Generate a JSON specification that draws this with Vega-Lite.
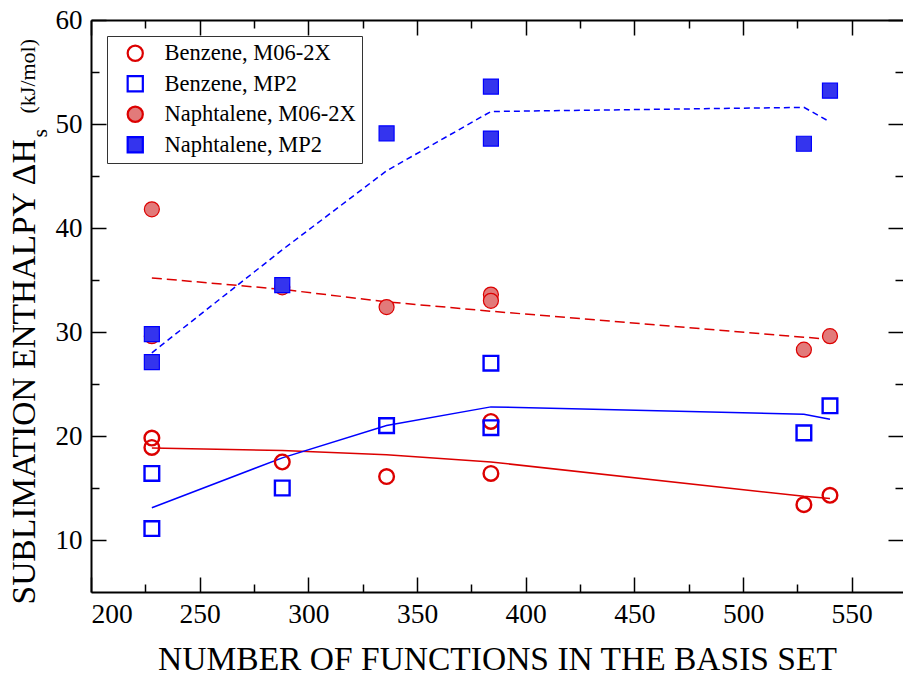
{
  "$schema": "https://vega.github.io/schema/vega-lite/v6.json",
  "width": 812,
  "height": 572,
  "autosize": {"type": "none"},
  "padding": {"left": 91, "top": 20, "right": 0, "bottom": 83},
  "background": "white",
  "config": {
    "view": {"stroke": null},
    "font": "Liberation Serif",
    "text": {"font": "Liberation Serif"},
    "legend": {"labelFont": "Liberation Serif", "titleFont": "Liberation Serif"},
    "axis": {"grid": false, "labelFont": "Liberation Serif", "titleFont": "Liberation Serif", "labelColor": "black", "titleColor": "black", "tickColor": "black", "domainColor": "black", "titleFontWeight": "normal", "tickWidth": 1.5, "domainWidth": 2}
  },
  "datasets": {
    "benzene": [
      {"n": 228, "dh": 19.8, "series": "Benzene, M06-2X"},
      {"n": 228, "dh": 18.9, "series": "Benzene, M06-2X"},
      {"n": 288, "dh": 17.5, "series": "Benzene, M06-2X"},
      {"n": 336, "dh": 16.1, "series": "Benzene, M06-2X"},
      {"n": 384, "dh": 16.4, "series": "Benzene, M06-2X"},
      {"n": 384, "dh": 21.4, "series": "Benzene, M06-2X"},
      {"n": 528, "dh": 13.4, "series": "Benzene, M06-2X"},
      {"n": 540, "dh": 14.3, "series": "Benzene, M06-2X"},
      {"n": 228, "dh": 16.4, "series": "Benzene, MP2"},
      {"n": 228, "dh": 11.1, "series": "Benzene, MP2"},
      {"n": 288, "dh": 15.0, "series": "Benzene, MP2"},
      {"n": 336, "dh": 21.0, "series": "Benzene, MP2"},
      {"n": 384, "dh": 27.0, "series": "Benzene, MP2"},
      {"n": 384, "dh": 20.8, "series": "Benzene, MP2"},
      {"n": 528, "dh": 20.3, "series": "Benzene, MP2"},
      {"n": 540, "dh": 22.9, "series": "Benzene, MP2"}
    ],
    "naphtalene": [
      {"n": 228, "dh": 41.8, "series": "Naphtalene, M06-2X"},
      {"n": 228, "dh": 29.6, "series": "Naphtalene, M06-2X"},
      {"n": 288, "dh": 34.3, "series": "Naphtalene, M06-2X"},
      {"n": 336, "dh": 32.4, "series": "Naphtalene, M06-2X"},
      {"n": 384, "dh": 33.6, "series": "Naphtalene, M06-2X"},
      {"n": 384, "dh": 33.0, "series": "Naphtalene, M06-2X"},
      {"n": 528, "dh": 28.3, "series": "Naphtalene, M06-2X"},
      {"n": 540, "dh": 29.6, "series": "Naphtalene, M06-2X"},
      {"n": 228, "dh": 29.8, "series": "Naphtalene, MP2"},
      {"n": 228, "dh": 27.1, "series": "Naphtalene, MP2"},
      {"n": 288, "dh": 34.5, "series": "Naphtalene, MP2"},
      {"n": 336, "dh": 49.1, "series": "Naphtalene, MP2"},
      {"n": 384, "dh": 53.6, "series": "Naphtalene, MP2"},
      {"n": 384, "dh": 48.6, "series": "Naphtalene, MP2"},
      {"n": 528, "dh": 48.1, "series": "Naphtalene, MP2"},
      {"n": 540, "dh": 53.2, "series": "Naphtalene, MP2"}
    ],
    "benzeneFits": [
      {"n": 228, "dh": 18.85, "fit": "Benzene, M06-2X fit"},
      {"n": 288, "dh": 18.6, "fit": "Benzene, M06-2X fit"},
      {"n": 336, "dh": 18.2, "fit": "Benzene, M06-2X fit"},
      {"n": 384, "dh": 17.5, "fit": "Benzene, M06-2X fit"},
      {"n": 528, "dh": 14.2, "fit": "Benzene, M06-2X fit"},
      {"n": 540, "dh": 14.0, "fit": "Benzene, M06-2X fit"},
      {"n": 228, "dh": 13.1, "fit": "Benzene, MP2 fit"},
      {"n": 288, "dh": 17.9, "fit": "Benzene, MP2 fit"},
      {"n": 336, "dh": 21.0, "fit": "Benzene, MP2 fit"},
      {"n": 384, "dh": 22.8, "fit": "Benzene, MP2 fit"},
      {"n": 528, "dh": 22.1, "fit": "Benzene, MP2 fit"},
      {"n": 540, "dh": 21.6, "fit": "Benzene, MP2 fit"}
    ],
    "naphtaleneFits": [
      {"n": 228, "dh": 35.2, "fit": "Naphtalene, M06-2X fit"},
      {"n": 288, "dh": 34.1, "fit": "Naphtalene, M06-2X fit"},
      {"n": 336, "dh": 32.9, "fit": "Naphtalene, M06-2X fit"},
      {"n": 384, "dh": 32.0, "fit": "Naphtalene, M06-2X fit"},
      {"n": 528, "dh": 29.5, "fit": "Naphtalene, M06-2X fit"},
      {"n": 540, "dh": 29.3, "fit": "Naphtalene, M06-2X fit"},
      {"n": 228, "dh": 28.0, "fit": "Naphtalene, MP2 fit"},
      {"n": 288, "dh": 37.9, "fit": "Naphtalene, MP2 fit"},
      {"n": 336, "dh": 45.5, "fit": "Naphtalene, MP2 fit"},
      {"n": 384, "dh": 51.2, "fit": "Naphtalene, MP2 fit"},
      {"n": 528, "dh": 51.6, "fit": "Naphtalene, MP2 fit"},
      {"n": 540, "dh": 50.2, "fit": "Naphtalene, MP2 fit"}
    ]
  },
  "resolve": {"axis": {"x": "independent", "y": "independent"}},
  "layer": [
    {
      "data": {"name": "benzeneFits"},
      "mark": {"type": "line", "strokeWidth": 1.5},
      "encoding": {
        "x": {"field": "n", "type": "quantitative", "scale": {"domain": [200, 573.6], "nice": false, "zero": false},
          "axis": {"orient": "top", "values": [200, 250, 300, 350, 400, 450, 500, 550], "tickSize": -15, "labels": false, "domain": true, "title": null}},
        "y": {"field": "dh", "type": "quantitative", "scale": {"domain": [5, 60], "nice": false, "zero": false},
          "axis": {"orient": "right", "values": [10, 20, 30, 40, 50, 60], "tickSize": -15, "labels": false, "domain": false,
            "title": "s", "titleFont": "Liberation Serif", "titleFontSize": 22, "titleAngle": 270, "titleAlign": "left", "titleBaseline": "middle", "titleX": -863.5, "titleY": 117}},
        "color": {"field": "fit", "type": "nominal", "legend": null,
          "scale": {"domain": ["Benzene, M06-2X fit", "Benzene, MP2 fit", "Naphtalene, M06-2X fit", "Naphtalene, MP2 fit"], "range": ["#dc0000", "#0000ff", "#dc0000", "#0000ff"]}}
      }
    },
    {
      "data": {"name": "naphtaleneFits"},
      "mark": {"type": "line", "strokeWidth": 1.5},
      "encoding": {
        "x": {"field": "n", "type": "quantitative", "scale": {"domain": [200, 573.6], "nice": false, "zero": false},
          "axis": {"orient": "top", "values": [225, 275, 325, 375, 425, 475, 525], "tickSize": -8, "labels": false, "domain": false, "title": null}},
        "y": {"field": "dh", "type": "quantitative", "scale": {"domain": [5, 60], "nice": false, "zero": false},
          "axis": {"orient": "right", "values": [15, 25, 35, 45, 55], "tickSize": -8, "labels": false, "domain": false, "title": null}},
        "color": {"field": "fit", "type": "nominal", "legend": null},
        "strokeDash": {"field": "fit", "type": "nominal", "legend": null,
          "scale": {"domain": ["Naphtalene, M06-2X fit", "Naphtalene, MP2 fit"], "range": [[10, 5], [6, 4]]}}
      }
    },
    {
      "data": {"name": "benzene"},
      "mark": {"type": "point", "opacity": 1, "size": 215, "strokeWidth": 2.4},
      "encoding": {
        "x": {"field": "n", "type": "quantitative", "scale": {"domain": [200, 573.6], "nice": false, "zero": false},
          "axis": {"orient": "bottom", "values": [200, 250, 300, 350, 400, 450, 500, 550], "tickSize": -15, "labelFont": "Liberation Serif", "labelFontSize": 27.5, "labelPadding": 45, "labelBaseline": "alphabetic",
            "title": "NUMBER OF FUNCTIONS IN THE BASIS SET", "titleFont": "Liberation Serif", "titleFontSize": 33.5, "titleBaseline": "alphabetic", "titleAlign": "center", "titleX": 406, "titleY": 77}},
        "y": {"field": "dh", "type": "quantitative", "scale": {"domain": [5, 60], "nice": false, "zero": false},
          "axis": {"orient": "left", "values": [10, 20, 30, 40, 50, 60], "tickSize": -15, "labelFont": "Liberation Serif", "labelFontSize": 27, "labelPadding": 24,
            "title": "SUBLIMATION ENTHALPY ΔH", "titleFont": "Liberation Serif", "titleFontSize": 33.5, "titleAngle": 270, "titleAlign": "left", "titleBaseline": "middle", "titleX": -67, "titleY": 584}},
        "shape": {"field": "series", "type": "nominal",
          "scale": {"domain": ["Benzene, M06-2X", "Benzene, MP2", "Naphtalene, M06-2X", "Naphtalene, MP2"], "range": ["circle", "square", "circle", "square"]},
          "legend": {"orient": "none", "legendX": 16, "legendY": 16, "title": null, "labelFont": "Liberation Serif", "labelFontSize": 22.5, "labelColor": "black", "labelLimit": 400,
            "symbolSize": 230, "symbolStrokeWidth": 2.2, "padding": 6, "rowPadding": 5.5, "strokeColor": "#333333", "fillColor": "white", "labelOffset": 18, "symbolOffset": 11}},
        "stroke": {"field": "series", "type": "nominal",
          "scale": {"domain": ["Benzene, M06-2X", "Benzene, MP2", "Naphtalene, M06-2X", "Naphtalene, MP2"], "range": ["#dc0000", "#0000ff", "#dc0000", "#0000ff"]}},
        "fill": {"field": "series", "type": "nominal",
          "scale": {"domain": ["Benzene, M06-2X", "Benzene, MP2", "Naphtalene, M06-2X", "Naphtalene, MP2"], "range": ["transparent", "transparent", "#e27a7a", "#3434ee"]}}
      }
    },
    {
      "data": {"name": "naphtalene"},
      "mark": {"type": "point", "opacity": 1, "size": 225, "strokeWidth": 1.2},
      "encoding": {
        "x": {"field": "n", "type": "quantitative", "scale": {"domain": [200, 573.6], "nice": false, "zero": false},
          "axis": {"orient": "bottom", "values": [225, 275, 325, 375, 425, 475, 525], "tickSize": -8, "labels": false, "domain": false, "title": null}},
        "y": {"field": "dh", "type": "quantitative", "scale": {"domain": [5, 60], "nice": false, "zero": false},
          "axis": {"orient": "left", "values": [15, 25, 35, 45, 55], "tickSize": -8, "labels": false, "domain": false,
            "title": "(kJ/mol)", "titleFont": "Liberation Serif", "titleFontSize": 22, "titleAngle": 270, "titleAlign": "left", "titleBaseline": "middle", "titleX": -64, "titleY": 93}},
        "shape": {"field": "series", "type": "nominal",
          "scale": {"domain": ["Benzene, M06-2X", "Benzene, MP2", "Naphtalene, M06-2X", "Naphtalene, MP2"], "range": ["circle", "square", "circle", "square"]}},
        "stroke": {"field": "series", "type": "nominal",
          "scale": {"domain": ["Benzene, M06-2X", "Benzene, MP2", "Naphtalene, M06-2X", "Naphtalene, MP2"], "range": ["#dc0000", "#0000ff", "#dc0000", "#0000ff"]}},
        "fill": {"field": "series", "type": "nominal",
          "scale": {"domain": ["Benzene, M06-2X", "Benzene, MP2", "Naphtalene, M06-2X", "Naphtalene, MP2"], "range": ["transparent", "transparent", "#e27a7a", "#3434ee"]}}
      }
    }
  ]
}
